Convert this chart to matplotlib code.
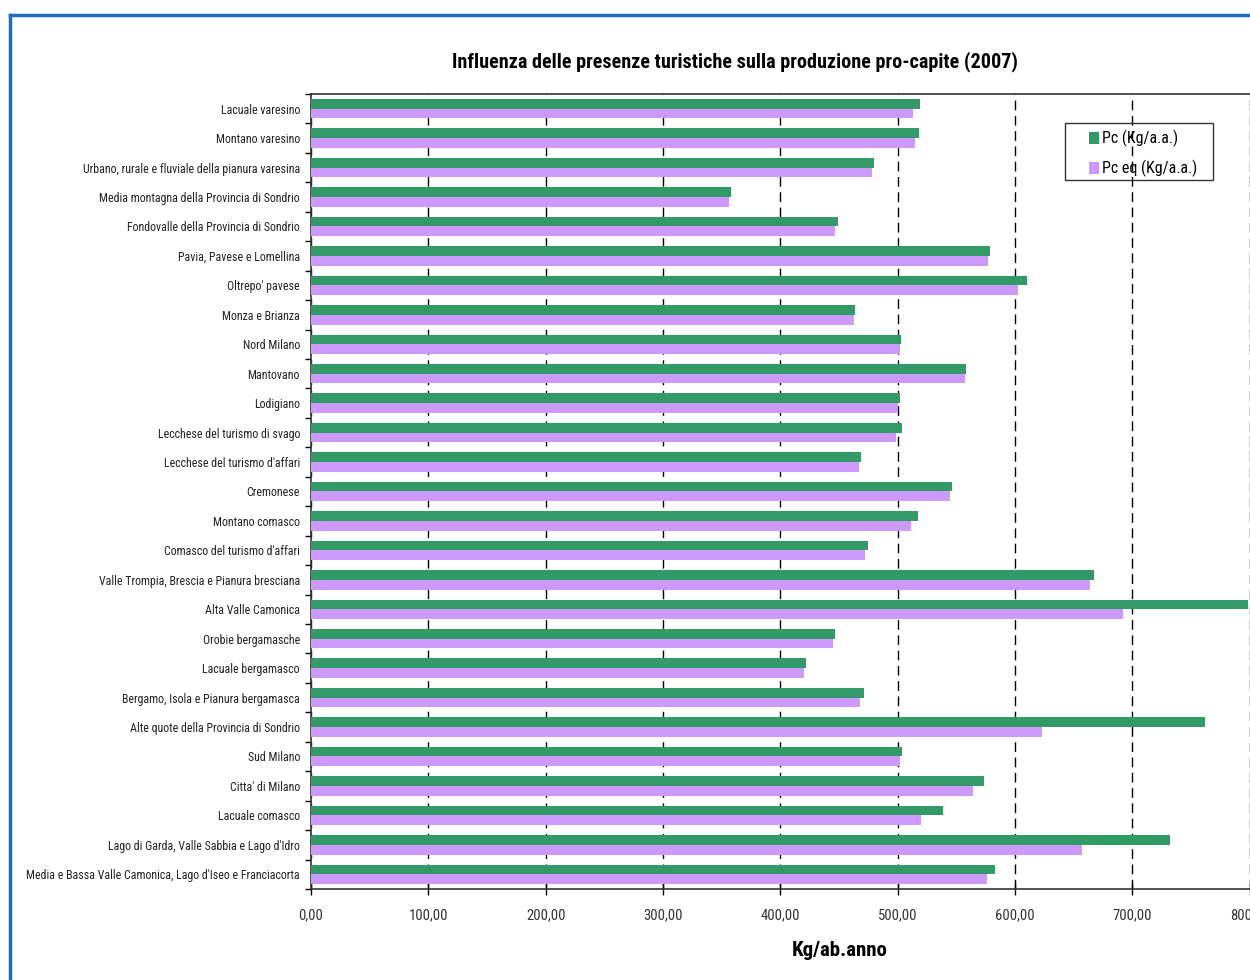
import numpy as np
import matplotlib
matplotlib.use("Agg")
import matplotlib.pyplot as plt
from matplotlib.lines import Line2D
from matplotlib.patches import Rectangle
from matplotlib.ticker import FuncFormatter
from matplotlib import font_manager

# carattere stretto se disponibile, altrimenti Liberation Sans
nomi = {f.name for f in font_manager.fontManager.ttflist}
stretti = [n for n in ('Roboto Condensed', 'Open Sans Condensed', 'Liberation Sans Narrow')
           if n in nomi]
plt.rcParams['font.family'] = stretti + ['Liberation Sans', 'DejaVu Sans']
cond = bool(stretti)

# ambiti territoriali, dall'alto verso il basso
ambiti = [
    "Lacuale varesino",
    "Montano varesino",
    "Urbano, rurale e fluviale della pianura varesina",
    "Media montagna della Provincia di Sondrio",
    "Fondovalle della Provincia di Sondrio",
    "Pavia, Pavese e Lomellina",
    "Oltrepo' pavese",
    "Monza e Brianza",
    "Nord Milano",
    "Mantovano",
    "Lodigiano",
    "Lecchese del turismo di svago",
    "Lecchese del turismo d'affari",
    "Cremonese",
    "Montano comasco",
    "Comasco del turismo d'affari",
    "Valle Trompia, Brescia e Pianura bresciana",
    "Alta Valle Camonica",
    "Orobie bergamasche",
    "Lacuale bergamasco",
    "Bergamo, Isola e Pianura bergamasca",
    "Alte quote della Provincia di Sondrio",
    "Sud Milano",
    "Citta' di Milano",
    "Lacuale comasco",
    "Lago di Garda, Valle Sabbia e Lago d'Idro",
    "Media e Bassa Valle Camonica, Lago d'Iseo e Franciacorta",
]

# produzione pro-capite (Kg/ab.anno)
pc = [519, 518, 480, 358, 449, 579, 610, 464, 503, 558, 502, 504, 469, 546,
      517, 475, 667, 799, 447, 422, 471, 762, 504, 574, 539, 732, 583]
pc_eq = [513, 515, 478, 356, 447, 577, 603, 463, 502, 557, 500, 499, 467, 545,
         511, 472, 664, 692, 445, 420, 468, 623, 502, 564, 520, 657, 576]

verde = '#339966'
lilla = '#cc99ff'

W, H = 1250, 980
fig = plt.figure(figsize=(W / 100, H / 100), dpi=100)
ax = fig.add_axes([0.2488, 0.0929, 0.7509, 0.8112])

y = np.arange(len(ambiti))
h = 0.33
ax.barh(y - h / 2, pc, height=h, color=verde, label='Pc (Kg/a.a.)', zorder=3)
ax.barh(y + h / 2, pc_eq, height=h, color=lilla, label='Pc eq (Kg/a.a.)', zorder=3)

ax.set_xlim(0, 800)
ax.set_ylim(len(ambiti) - 0.5, -0.5)

# tacche tra le categorie, etichette al centro
ax.set_yticks(np.arange(len(ambiti) + 1) - 0.5)
ax.set_yticklabels([])
ax.set_yticks(y, minor=True)
ax.set_yticklabels(ambiti, minor=True, fontsize=8.6 if cond else 7.6, color='#222222')
ax.tick_params(axis='y', which='major', length=4, width=1, direction='out')
ax.tick_params(axis='y', which='minor', length=0, pad=8)

ax.set_xticks(np.arange(0, 801, 100))
ax.xaxis.set_major_formatter(FuncFormatter(lambda v, p: f"{v:.2f}".replace('.', ',')))
ax.tick_params(axis='x', length=8, width=1, direction='inout', labelsize=10.5,
               labelcolor='#333333', pad=10)

ax.grid(axis='x', color='black', linestyle=(0, (7, 4)), linewidth=1, zorder=0)
ax.spines['right'].set_visible(False)
for s in ('left', 'top', 'bottom'):
    ax.spines[s].set_color('#333333')
    ax.spines[s].set_linewidth(1.2)

ax.set_xlabel('Kg/ab.anno', fontsize=15 if cond else 13.5, fontweight='bold')
ax.xaxis.set_label_coords(0.563, -0.066)

fig.text(0.588, 0.937, 'Influenza delle presenze turistiche sulla produzione pro-capite (2007)',
         ha='center', va='center', fontsize=14.5 if cond else 12.5, fontweight='bold')

# legenda senza cornice, riquadro disegnato a parte
leg = fig.legend(loc='upper left', bbox_to_anchor=(1089 / W, 1 - 130 / H), borderaxespad=0,
                 frameon=False, fontsize=11.5 if cond else 10.5,
                 handlelength=0.65, handleheight=0.8, handletextpad=0.15,
                 borderpad=0, labelspacing=0.8)
fig.add_artist(Rectangle((1065 / W, 1 - 180 / H), 148 / W, 57 / H, transform=fig.transFigure,
                         fill=False, edgecolor='#333333', linewidth=1, zorder=5))

# cornice blu del grafico
fig.add_artist(Line2D([0.008, 0.008], [0, 0.985], color='#1a6fc4', lw=2.5,
                      transform=fig.transFigure))
fig.add_artist(Line2D([0.008, 1.0], [0.985, 0.985], color='#1a6fc4', lw=2.5,
                      transform=fig.transFigure))

fig.savefig('out.png', dpi=100, facecolor='white')
